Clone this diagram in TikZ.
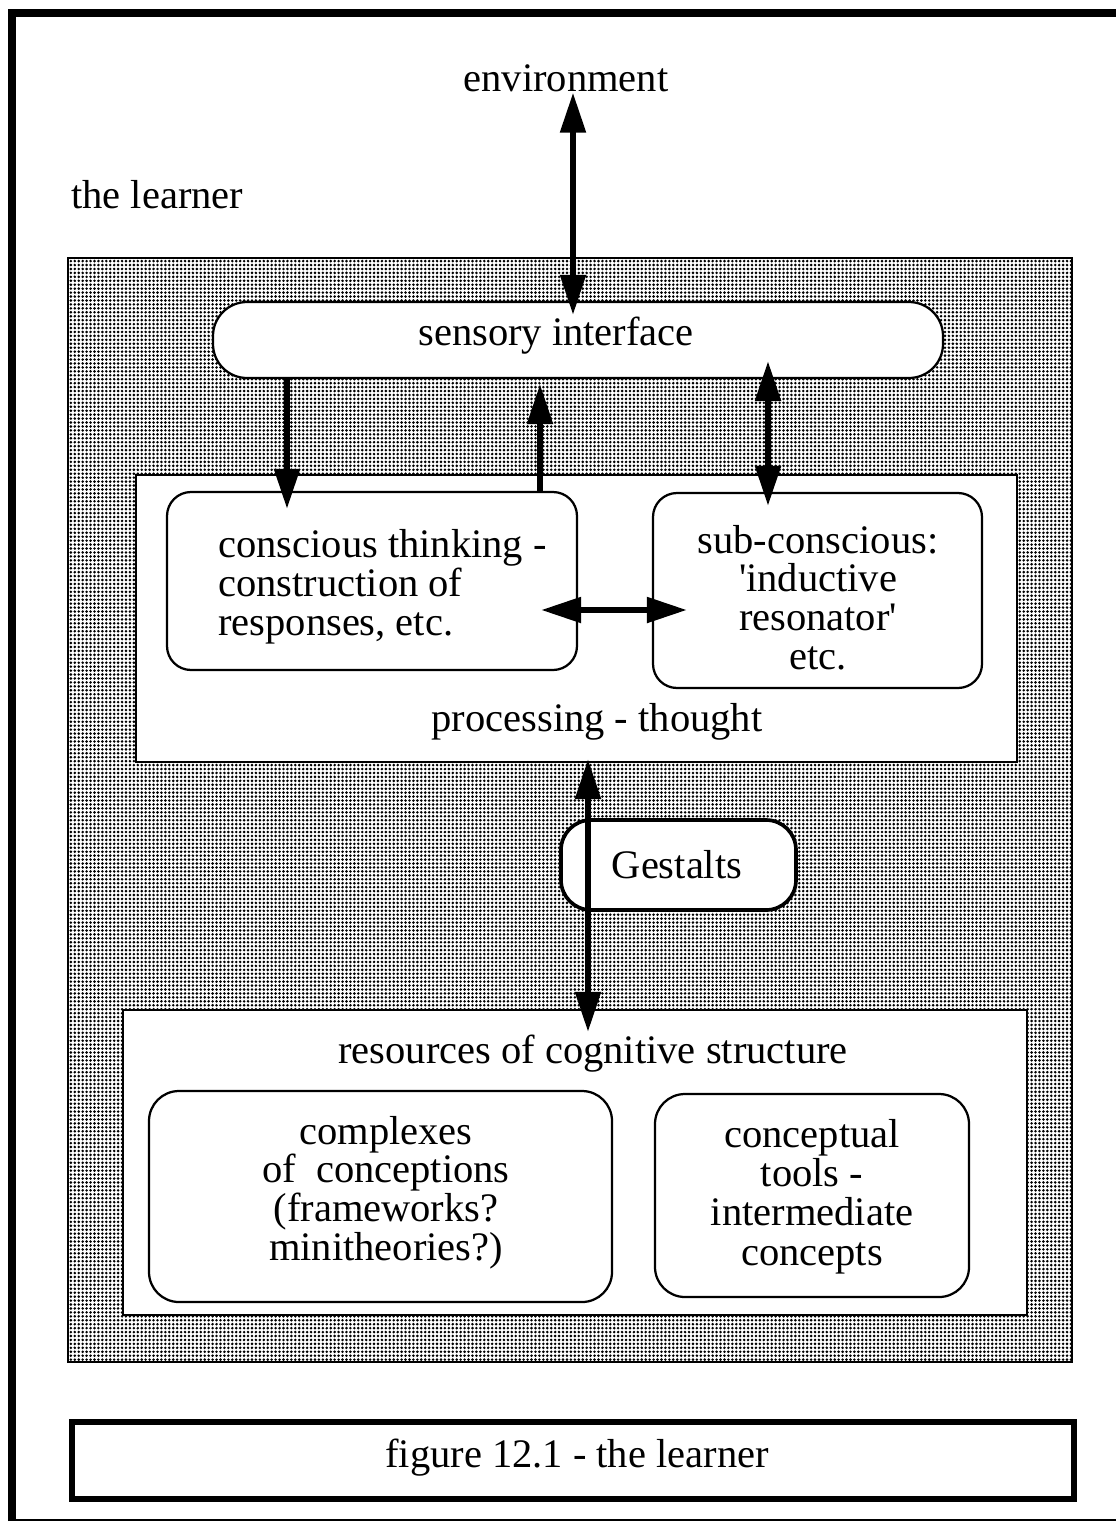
\documentclass[tikz,border=0pt]{standalone}
\usepackage{fontspec}
\setmainfont{Liberation Serif}
\usetikzlibrary{arrows.meta,patterns.meta,calc}

\tikzset{
  boxw/.style={minimum width=#1*0.025cm},
  boxh/.style={minimum height=#1*0.025cm},
  plainbox/.style={draw, line width=1.6pt, fill=white, inner sep=0pt},
  roundbox/.style={plainbox, rounded corners=0.65cm},
  txt/.style={inner sep=0pt, font=\fontsize{28.8}{27.4}\selectfont},
  biarrow/.style={line width=4.2pt, {Triangle[width=0.62cm,length=1.0cm]}-{Triangle[width=0.62cm,length=1.0cm]}},
  onearrow/.style={line width=4.2pt, -{Triangle[width=0.62cm,length=1.0cm]}},
}

\begin{document}
\begin{tikzpicture}[x=0.025cm,y=-0.025cm]
  \useasboundingbox (0,0) rectangle (1116,1525);
  \fill[white] (0,0) rectangle (1116,1525);

  % page frame
  \draw[line width=5.5pt] (12,1521) -- (12,13) -- (1116,13);
  \draw[line width=1.2pt] (12,1520) -- (1116,1520);

  % labels outside the learner
  \node[txt, anchor=base] (envtxt) at (566,92) {environment};
  \node[txt, anchor=base west] (learnertxt) at (71,208) {the learner};

  % the learner (dotted area)
  \node[draw, line width=1.6pt, inner sep=0pt, boxw=1004, boxh=1104,
        pattern={Dots[distance=2.8pt,radius=1.02pt]}, pattern color=black]
        (learner) at (570,810) {};

  % sensory interface
  \node[roundbox, rounded corners=0.85cm, boxw=730, boxh=76] (sensory) at (578,340) {};
  \node[txt, anchor=base] (sensetxt) at (556,345) {sensory interface};

  % processing - thought (multi-line texts are placed by their last baseline)
  \node[plainbox, boxw=881, boxh=287] (processing) at (576.5,618.5) {};
  \node[roundbox, rounded corners=0.6cm, boxw=410, boxh=178] (conscious) at (372,581) {};
  \node[txt, anchor=base west, align=left] (constxt) at (218,635)
       {conscious thinking -\\construction of\\responses, etc.};
  \node[roundbox, rounded corners=0.6cm, boxw=329, boxh=195] (subc) at (817.5,590.5) {};
  \node[txt, anchor=base, align=center] (subtxt) at (818,669)
       {sub-conscious:\\\textquotesingle inductive\\resonator\textquotesingle\\etc.};
  \node[txt, anchor=base] (proctxt) at (597,731) {processing - thought};

  % Gestalts
  \node[roundbox, rounded corners=0.75cm, line width=2.6pt, boxw=235, boxh=90] (gestalts) at (678.5,865) {};
  \node[txt, anchor=base] (gesttxt) at (677,878) {Gestalts};

  % resources of cognitive structure
  \node[plainbox, boxw=904, boxh=305] (resources) at (575,1162.5) {};
  \node[txt, anchor=base] (restxt) at (593,1063) {resources of cognitive structure};
  \node[roundbox, rounded corners=0.75cm, boxw=463, boxh=211] (complexes) at (380.5,1196.5) {};
  \node[txt, anchor=base, align=center] (comptxt) at (386,1260)
       {complexes\\of\ \ conceptions\\(frameworks?\\minitheories?)};
  \node[roundbox, rounded corners=0.75cm, boxw=314, boxh=203] (tools) at (812,1195.5) {};
  \node[txt, anchor=base, align=center, font=\fontsize{28.8}{27.9}\selectfont] (tooltxt) at (812,1265)
       {conceptual\\tools -\\intermediate\\concepts};

  % caption
  \node[draw, line width=4.3pt, inner sep=0pt, boxw=1002, boxh=77] (caption) at (573,1460.5) {};
  \node[txt, anchor=base] (captxt) at (577,1467) {figure 12.1 - the learner};

  % connectors
  \draw[biarrow] ([shift={(7,0)}]envtxt.south) -- ([shift={(-5,14)}]sensory.north);
  \draw[onearrow] ([shift={(-291,0)}]sensory.south) -- ([shift={(-85,18)}]conscious.north);
  \draw[onearrow] ([shift={(168,0)}]conscious.north) -- ([shift={(-38,5)}]sensory.south);
  \draw[biarrow] ([shift={(190,-18)}]sensory.south) -- ([shift={(-49.5,14)}]subc.north);
  \draw[biarrow] ([shift={(-37,29)}]conscious.east) -- ([shift={(35,19.5)}]subc.west);
  \draw[biarrow] ([shift={(11.5,-4)}]processing.south) -- ([shift={(13,23)}]resources.north);
\end{tikzpicture}
\end{document}
